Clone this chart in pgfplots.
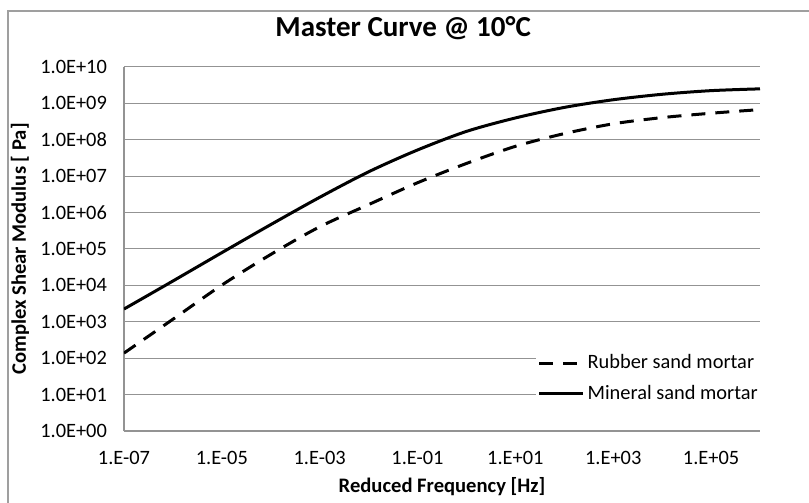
\documentclass[border=0pt]{standalone}
\usepackage{fontspec}
\setmainfont{Carlito}
\usepackage{pgfplots}
\pgfplotsset{compat=1.18}

\begin{document}
\begin{tikzpicture}
\path[use as bounding box] (-62pt,-36pt) rectangle (342.5pt,215.5pt);
\draw[gray!75, line width=0.75pt] (-58pt,-40pt) -- (-58pt,210pt) -- (346pt,210pt);
\begin{axis}[
    scale only axis,
    width=318pt,
    height=182pt,
    xmode=log,
    ymode=log,
    xmin=1e-7, xmax=1e6,
    ymin=1, ymax=1e10,
    xtick={1e-7,1e-5,1e-3,1e-1,1e1,1e3,1e5},
    xticklabels={1.E-07,1.E-05,1.E-03,1.E-01,1.E+01,1.E+03,1.E+05},
    ytick={1,1e1,1e2,1e3,1e4,1e5,1e6,1e7,1e8,1e9,1e10},
    yticklabels={1.0E+00,1.0E+01,1.0E+02,1.0E+03,1.0E+04,1.0E+05,1.0E+06,1.0E+07,1.0E+08,1.0E+09,1.0E+10},
    xminorticks=false, yminorticks=false,
    major tick length=0pt,
    axis x line*=bottom,
    axis y line*=left,
    axis line style={-, draw=gray!85, line width=0.6pt},
    ymajorgrids=true,
    major grid style={gray!85, line width=0.5pt},
    tick label style={font=\fontsize{10.2}{12}\selectfont},
    xticklabel style={yshift=-6.5pt},
    yticklabel style={xshift=-5pt},
    title={Master Curve @ 10°C},
    title style={font=\bfseries\fontsize{14.5}{16}\selectfont, at={(axis description cs:0.439,1.074)}, anchor=center},
    xlabel={Reduced Frequency [Hz]},
    xlabel style={font=\bfseries\fontsize{10.3}{12}\selectfont, at={(axis description cs:0.5,-0.154)}, anchor=center},
    ylabel={Complex Shear Modulus [ Pa]},
    ylabel style={font=\bfseries\fontsize{10.3}{12}\selectfont, at={(axis description cs:-0.1635,0.5)}, anchor=center},
    legend cell align=left,
    legend style={draw=none, fill=white, inner sep=1pt, row sep=2.5pt,
        nodes={inner xsep=1.5pt},
        font=\fontsize{10.2}{12}\selectfont,
        at={(axis description cs:1.005,0.062)}, anchor=south east},
    legend image code/.code={\draw[#1] (0pt,0pt) -- (22pt,0pt);},
]

% Rubber sand mortar
\addplot[black, line width=1.5pt, dash pattern=on 7pt off 5pt, smooth]
coordinates {
(1e-7,138) (1e-6,1175) (1e-5,1.02e4) (1e-4,7.08e4)
(1e-3,4.07e5) (1e-2,1.66e6) (1e-1,6.61e6) (1,2.24e7)
(10,6.61e7) (100,1.48e8) (1e3,2.75e8) (1e4,4.07e8)
(1e5,5.37e8) (1e6,6.76e8)
};
\addlegendentry{Rubber sand mortar}

% Mineral sand mortar
\addplot[black, line width=1.5pt, smooth]
coordinates {
(1e-7,2.24e3) (1e-6,1.32e4) (1e-5,7.94e4) (1e-4,4.68e5)
(1e-3,2.63e6) (1e-2,1.32e7) (1e-1,5.25e7) (1,1.70e8)
(10,3.98e8) (100,7.76e8) (1e3,1.26e9) (1e4,1.78e9)
(1e5,2.24e9) (1e6,2.51e9)
};
\addlegendentry{Mineral sand mortar}

\end{axis}
\end{tikzpicture}
\end{document}
